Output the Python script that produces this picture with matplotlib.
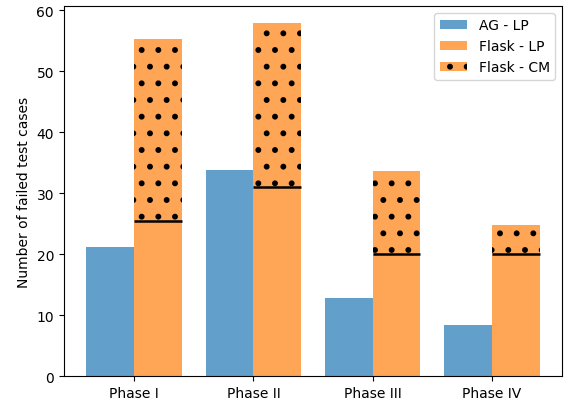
import numpy as np
import matplotlib
matplotlib.use("Agg")
import matplotlib.pyplot as plt

# failed test cases per phase
phases = ["Phase I", "Phase II", "Phase III", "Phase IV"]
ag_lp = [21.2, 33.8, 12.8, 8.4]
flask_lp = [25.5, 31.0, 20.0, 20.0]
flask_cm = [29.7, 26.8, 13.6, 4.8]   # stacked on top of flask_lp

plt.rcParams['hatch.color'] = 'black'
plt.rcParams['hatch.linewidth'] = 1.8

blue = '#629fcb'
orange = '#ffa556'

fig = plt.figure(figsize=(5.65, 4.02), dpi=100)
ax = fig.add_subplot(111)
fig.subplots_adjust(left=0.113, right=0.995, top=0.983, bottom=0.062)

x = np.arange(len(phases))
w = 0.4

ax.bar(x - w/2, ag_lp, w, color=blue, label='AG - LP')
ax.bar(x + w/2, flask_lp, w, color=orange, label='Flask - LP')
ax.bar(x + w/2, flask_cm, w, bottom=flask_lp, color=orange,
       edgecolor='black', linewidth=0, hatch='.', label='Flask - CM')
# mark the top of the LP part
ax.hlines(flask_lp, x, x + w, colors='black', linewidth=1.8)

ax.set_xticks(x)
ax.set_xticklabels(phases)
ax.set_ylabel('Number of failed test cases')
ax.legend(loc='upper right')

plt.savefig('out.png', dpi=100)
